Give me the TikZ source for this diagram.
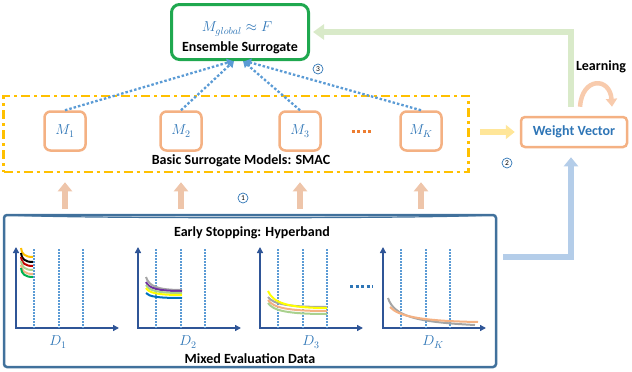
\documentclass[tikz,border=0pt]{standalone}
\usepackage{fontspec}
\setmainfont{Carlito}
\usepackage{tikz}
\usetikzlibrary{arrows.meta,calc,positioning}

\definecolor{ensgreen}{HTML}{1FA84F}
\definecolor{modelorange}{HTML}{F4B183}
\definecolor{labelblue}{HTML}{2E75B6}
\definecolor{dotblue}{HTML}{5B9BD5}
\definecolor{frameyellow}{HTML}{FFC000}
\definecolor{lightyellow}{HTML}{FFE699}
\definecolor{lightgreen}{HTML}{D9EAC9}
\definecolor{uppeach}{HTML}{EEC5AA}
\definecolor{looppeach}{HTML}{F8CBAD}
\definecolor{lightblue}{HTML}{B4CDE9}
\definecolor{steel}{HTML}{41719C}
\definecolor{axisblue}{HTML}{2F5597}
\definecolor{dotorange}{HTML}{ED7D31}
\definecolor{cgrey}{HTML}{A5A5A5}
\definecolor{cpurple}{HTML}{7030A0}
\definecolor{cyellow}{HTML}{FFFF00}
\definecolor{cgold}{HTML}{FFC000}
\definecolor{cred}{HTML}{C00000}
\definecolor{cgreen}{HTML}{00B050}
\definecolor{clgreen}{HTML}{A9D18E}
\definecolor{cpeach}{HTML}{F4B183}
\definecolor{cblue}{HTML}{0070C0}

\begin{document}
\begin{tikzpicture}[
    x=1pt,y=-1pt,
    font=\bfseries\fontsize{14}{16}\selectfont,
    ensbox/.style={draw=ensgreen,line width=3pt,rounded corners=8pt,minimum width=137pt,minimum height=55pt},
    model/.style={draw=modelorange,line width=2.5pt,rounded corners=6pt,minimum width=41pt,minimum height=39pt,inner sep=0pt,text=labelblue,font=\fontsize{14}{16}\selectfont},
    wvbox/.style={draw=modelorange,line width=2.5pt,rounded corners=4pt,minimum width=106pt,minimum height=30pt,text=labelblue},
    frameline/.style={draw=frameyellow,line width=2.5pt,dash pattern=on 9pt off 4pt on 3pt off 4pt,minimum width=465pt,minimum height=76pt},
    databox/.style={draw=steel,line width=2.5pt,rounded corners=3pt,minimum width=492pt,minimum height=152pt},
    circnum/.style={circle,draw=labelblue,line width=0.7pt,inner sep=0pt,minimum size=10pt,font=\fontsize{7.5}{8}\selectfont},
    mathlabel/.style={text=labelblue,font=\fontsize{14}{16}\selectfont},
    dotarrow/.style={dotblue,line width=2.3pt,dash pattern=on 2.5pt off 2pt,-{Triangle[width=8pt,length=6pt]}},
    blockarrow/.style={line width=6pt,-{Triangle[width=14pt,length=9pt]}},
    plotaxis/.style={axisblue,line width=1.4pt,{Triangle[width=6pt,length=6pt]}-{Triangle[width=6pt,length=6pt]}},
    stopline/.style={dotblue,line width=1.4pt,dash pattern=on 1.5pt off 1.5pt},
    lcurve/.style={line width=2pt}
]
\useasboundingbox (0,0) rectangle (632,372);

% Ensemble surrogate
\node[ensbox] (ens) at (240,32) {};
\node[mathlabel] (glob) at (237,29) {$M_{global}\approx F$};
\node (enslabel) at (240,48) {Ensemble Surrogate};

% Basic surrogate models
\node[model] (m1) at (65,131) {$M_1$};
\node[model] (m2) at (181,131) {$M_2$};
\node[model] (m3) at (300,131) {$M_3$};
\node[model] (mk) at (421,131) {$M_K$};
\node[frameline] (frame) at (236,134) {};
\node (smac) at (241,161) {Basic Surrogate Models: SMAC};
\draw[dotorange,line width=3pt,dash pattern=on 3pt off 2.5pt] ([xshift=30pt]m3.east) -- ([xshift=-26pt]mk.west);
\draw[dotarrow] (m1.north) -- ([xshift=-7pt]ens.south);
\draw[dotarrow] (m2.north) -- ([xshift=-6pt]ens.south);
\draw[dotarrow] (m3.north) -- ([xshift=3pt]ens.south);
\draw[dotarrow] (mk.north) -- ([xshift=5pt]ens.south);

% Weight vector and learning
\node[wvbox] (wv) at (574,132) {Weight Vector};
\node (learn) at (601,67) {Learning};
\draw[blockarrow,lightgreen,-{Triangle[width=15pt,length=11pt]},shorten >=3pt] ([xshift=-3pt,yshift=9pt]wv.north) |- (ens.east);
\draw[looppeach,line width=4.5pt,-{Triangle[width=11pt,length=8pt]}] ([xshift=6pt,yshift=9pt]wv.north) .. controls +(2,-30) and +(-2,-30) .. ([xshift=38pt,yshift=9pt]wv.north);
\draw[blockarrow,lightyellow,shorten <=10pt,shorten >=5pt] (frame.east |- wv.west) -- (wv.west);

% Mixed evaluation data
\node[databox] (data) at (250,291) {};
\draw[steel,line width=1.2pt] ($(data.north west)+(6,1)$) .. controls ($(data.north west)+(40,5)$) and ($(data.north east)+(-40,5)$) .. ($(data.north east)+(-6,1)$);
\node (early) at (252,233) {Early Stopping: Hyperband};
\node (mixed) at (250,359) {Mixed Evaluation Data};
\foreach \m in {m1,m2,m3,mk}
  \draw[blockarrow,uppeach,shorten <=5pt,shorten >=9pt] (\m |- data.north) -- (\m |- frame.south);
\draw[blockarrow,lightblue,shorten <=6pt,shorten >=9pt] ([yshift=34pt]data.east) -| ([xshift=-3pt]wv.south);

\node[circnum] (c1) at (243,198) {1};
\node[circnum] (c2) at (507,163) {2};
\node[circnum] (c3) at (318,69) {3};

% Learning curves
\foreach \px/\dx/\dn in {16/42/1,138/50/2,260/51/3,383/50/K} {
  \draw[plotaxis] (\px,247) -- (\px,328) -- (\px+103,328);
  \foreach \gx in {18,43,67}
    \draw[stopline] (\px+\gx,249) -- (\px+\gx,328);
  \node[mathlabel] (d\dn) at (\px+\dx,342) {$D_{\dn}$};
}
\foreach \yy/\cc in {248/cgold,253/black,257/cred,261/clgreen,265/cpeach,268/cgreen}
  \draw[lcurve,\cc] (21,\yy) .. controls (21.5,\yy+6) and (25,\yy+9) .. (33,\yy+9);
\foreach \ya/\yb/\cc in {277/290/cgrey,282/291/cpurple,285/293/clgreen,288/295/cyellow,293/298/cblue}
  \draw[lcurve,\cc] (146,\ya) .. controls (149,{\ya+0.7*(\yb-\ya)}) and (157,\yb) .. (182,\yb);
\foreach \ya/\yb/\cc in {297/307/cgrey,291/308/cyellow,300/311/cpeach,303/314/clgreen}
  \draw[lcurve,\cc] (268,\ya) .. controls (273,{\ya+0.7*(\yb-\ya)}) and (288,\yb) .. (327,\yb);
\draw[lcurve,cgrey] (388,298) .. controls (394,316) and (415,322) .. (475,325);
\draw[lcurve,cpeach] (390,307) .. controls (398,316) and (420,321) .. (478,322);
\draw[labelblue,line width=3pt,dash pattern=on 3pt off 2.5pt] (350,286) -- (373,286);
\end{tikzpicture}
\end{document}
